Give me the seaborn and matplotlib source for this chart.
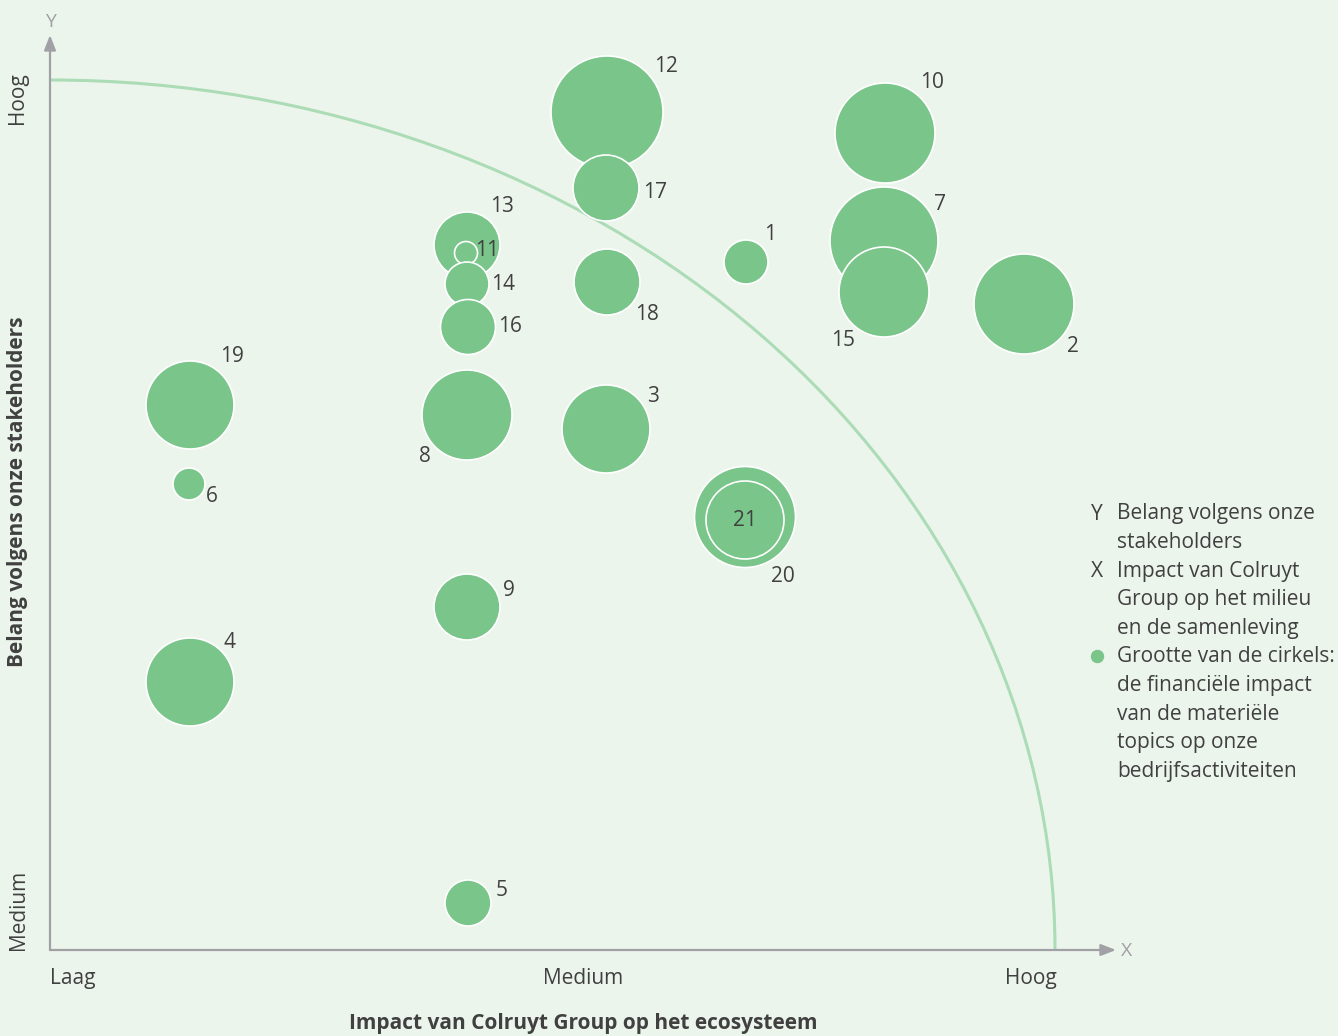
import pandas as pd
import matplotlib.pyplot as plt
import seaborn as sns
from matplotlib.patches import Arc

# Materiality matrix: x = impact on ecosystem, y = importance for stakeholders (0 = Laag/Medium origin)
# listed in drawing order so overlapping circles stack like in the report
topics = ['1', '2', '3', '4', '5', '6', '7', '8', '9', '10', '12', '17', '13', '11', '14', '15', '16',
          '18', '19', '20', '21']
impact = [69.6, 97.4, 55.6, 14.0, 41.8, 13.9, 83.4, 41.7, 41.7, 83.5, 55.7, 55.6, 41.7, 41.6, 41.7,
          83.4, 41.8, 55.7, 14.0, 69.5, 69.5]
belang = [68.8, 64.6, 52.1, 26.8, 4.7, 46.6, 70.9, 53.5, 34.3, 81.7, 83.8, 76.2, 70.5, 69.7, 66.6,
          65.8, 62.3, 66.8, 54.5, 43.3, 43.0]
# circle radius (financial impact)
financieel = [2.2, 5.0, 4.4, 4.4, 2.3, 1.6, 5.4, 4.5, 3.3, 5.0, 5.6, 3.3, 3.3, 1.15, 2.2, 4.5, 2.75,
              3.3, 4.4, 5.05, 3.9]

x_ticks = ['Laag', 'Medium', 'Hoog']
y_ticks = ['Medium', 'Hoog']

df = pd.DataFrame({'topic': topics, 'x': impact, 'y': belang, 'r': financieel})

green = '#79c58a'
bg = '#ecf5ec'
txt = '#404040'
grey = '#a0a0a5'
fs = 15

plt.rcParams['font.family'] = ['Open Sans', 'DejaVu Sans']

fig = plt.figure(figsize=(13.38, 10.36), dpi=100, facecolor=bg)
ax = fig.add_axes([0, 0, 1, 1])
ax.set_facecolor(bg)
ax.set_xlim(-5, 128.8)
ax.set_ylim(-8.6, 95)
ax.axis('off')

# quarter circle separating the most material topics
ax.add_patch(Arc((0, 0), 201, 174, theta1=0, theta2=90, color='#acdcb6', lw=2.2, zorder=1))

# axes with arrows
ax.annotate('', xy=(0, 91.5), xytext=(0, 0),
            arrowprops=dict(arrowstyle='-|>,head_length=0.9,head_width=0.35', color=grey, lw=1.6,
                            shrinkA=0, shrinkB=0), zorder=2)
ax.annotate('', xy=(106.6, 0), xytext=(0, 0),
            arrowprops=dict(arrowstyle='-|>,head_length=0.9,head_width=0.35', color=grey, lw=1.6,
                            shrinkA=0, shrinkB=0), zorder=2)
ax.text(0, 92.8, 'Y', color=grey, fontsize=14, ha='center', va='center')
ax.text(107.7, -0.1, 'X', color=grey, fontsize=14, ha='center', va='center')

# bubbles: radius (px) -> marker area (pt^2)
sizes = [(2 * r * 10 * 0.72) ** 2 for r in df['r']]
sns.scatterplot(data=df, x='x', y='y', s=sizes, color=green, edgecolor='white', linewidth=1.2,
                alpha=1, legend=False, ax=ax, zorder=3)

# label offsets in pixels (dx, dy), dy positive = up
offsets = {'1': (24, 28), '2': (49, -42), '3': (47, 32), '4': (40, 39), '5': (34, 13), '6': (23, -13),
           '7': (56, 37), '8': (-42, -42), '9': (42, 17), '10': (47, 50), '11': (21, 2), '12': (59, 46),
           '13': (35, 38), '14': (36, -1), '15': (-41, -48), '16': (42, 0), '17': (49, -5),
           '18': (40, -32), '19': (42, 49), '20': (38, -59), '21': (0, -1)}
for t, x, y in zip(df['topic'], df['x'], df['y']):
    dx, dy = offsets[t]
    ax.annotate(t, (x, y), xytext=(dx * 0.72, dy * 0.72), textcoords='offset points',
                fontsize=fs, color=txt, ha='center', va='center', zorder=4)

# tick labels
ax.text(0, -2.85, x_ticks[0], fontsize=fs, color=txt, ha='left', va='center')
ax.text(53.3, -2.85, x_ticks[1], fontsize=fs, color=txt, ha='center', va='center')
ax.text(98.1, -2.85, x_ticks[2], fontsize=fs, color=txt, ha='center', va='center')
ax.text(-3.2, 4.0, y_ticks[0], fontsize=fs, color=txt, ha='center', va='center', rotation=90)
ax.text(-3.2, 85.2, y_ticks[1], fontsize=fs, color=txt, ha='center', va='center', rotation=90)

ax.text(53.3, -7.4, 'Impact van Colruyt Group op het ecosysteem', fontsize=fs, fontweight='bold',
        color=txt, ha='center', va='center')
ax.text(-3.2, 45.8, 'Belang volgens onze stakeholders', fontsize=fs, fontweight='bold',
        color=txt, ha='center', va='center', rotation=90)

# legend text
legend_lines = ['Belang volgens onze', 'stakeholders', 'Impact van Colruyt', 'Group op het milieu',
                'en de samenleving', 'Grootte van de cirkels:', 'de financiële impact',
                'van de materiële', 'topics op onze', 'bedrijfsactiviteiten']
for i, line in enumerate(legend_lines):
    ax.text(106.7, 43.6 - i * 2.86, line, fontsize=fs, color=txt, ha='left', va='center')
ax.text(104.1, 43.6, 'Y', fontsize=fs, color=txt, ha='left', va='center')
ax.text(104.1, 43.6 - 2 * 2.86, 'X', fontsize=fs, color=txt, ha='left', va='center')
ax.scatter([104.7], [43.7 - 5 * 2.86], s=(12 * 0.72) ** 2, color=green, zorder=3)

fig.savefig('out.png', dpi=100, facecolor=bg)
